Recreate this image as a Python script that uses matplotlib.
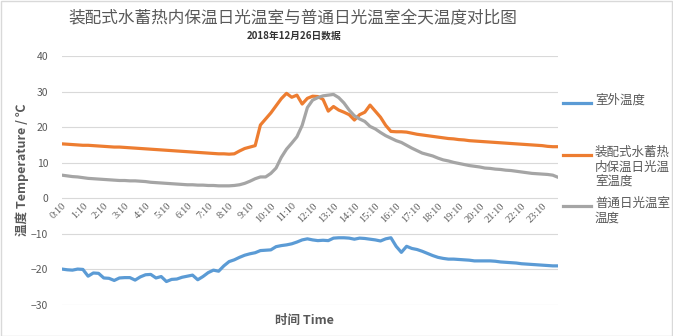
import matplotlib
matplotlib.use('Agg')
import matplotlib.pyplot as plt
from matplotlib.lines import Line2D
from matplotlib.patches import Rectangle
import numpy as np

plt.rcParams['font.family'] = ['Noto Sans CJK SC', 'DejaVu Sans']

# readings every 15 min starting 0:10
outdoor = [
    -19.9, -20.1, -20.2, -19.9, -20.0, -21.9, -21.0, -21.1, -22.4, -22.5,
    -23.1, -22.4, -22.3, -22.3, -23.0, -22.1, -21.5, -21.4, -22.4, -22.0,
    -23.4, -22.8, -22.7, -22.2, -21.9, -21.6, -22.9, -22.0, -20.9, -20.2,
    -20.5, -19.0, -17.8, -17.3, -16.6, -16.0, -15.6, -15.3, -14.7, -14.6,
    -14.5, -13.6, -13.3, -13.1, -12.8, -12.3, -11.7, -11.4, -11.7, -11.9,
    -11.8, -11.9, -11.2, -11.1, -11.1, -11.2, -11.5, -11.2, -11.3, -11.5,
    -11.7, -12.0, -11.4, -11.1, -13.5, -15.2, -13.5, -14.1, -14.4, -14.9,
    -15.5, -16.1, -16.6, -16.9, -17.1, -17.1, -17.2, -17.3, -17.4, -17.6,
    -17.6, -17.6, -17.6, -17.7, -17.9, -18.0, -18.1, -18.2, -18.4, -18.5,
    -18.6, -18.7, -18.8, -18.9, -19.0, -19.0,
]
water_house = [
    15.3, 15.2, 15.1, 15.0, 14.9, 14.9, 14.8, 14.7, 14.6, 14.5,
    14.4, 14.4, 14.3, 14.2, 14.1, 14.0, 13.9, 13.8, 13.7, 13.6,
    13.5, 13.4, 13.3, 13.2, 13.1, 13.0, 12.9, 12.8, 12.7, 12.6,
    12.5, 12.5, 12.4, 12.5, 13.3, 14.0, 14.4, 14.8, 20.6, 22.3,
    24.0, 26.0, 28.0, 29.5, 28.4, 29.0, 26.5, 28.1, 28.7, 28.6,
    27.8, 24.5, 25.8, 24.8, 24.2, 23.5, 22.0, 23.5, 24.2, 26.2,
    24.5, 22.8, 20.5, 18.8, 18.7, 18.7, 18.6, 18.3, 18.0, 17.8,
    17.6, 17.4, 17.2, 17.0, 16.8, 16.7, 16.5, 16.4, 16.2, 16.1,
    16.0, 15.9, 15.8, 15.7, 15.6, 15.5, 15.4, 15.3, 15.2, 15.1,
    15.0, 14.9, 14.8, 14.6, 14.5, 14.5,
]
normal_house = [
    6.5, 6.3, 6.1, 6.0, 5.8, 5.6, 5.5, 5.4, 5.3, 5.2,
    5.1, 5.0, 5.0, 4.9, 4.9, 4.8, 4.7, 4.5, 4.4, 4.3,
    4.2, 4.1, 4.0, 3.9, 3.8, 3.8, 3.7, 3.7, 3.6, 3.6,
    3.5, 3.5, 3.5, 3.6, 3.8, 4.2, 4.8, 5.5, 6.0, 6.0,
    7.0, 8.5, 11.5, 13.8, 15.5, 17.3, 20.5, 25.5, 27.6, 28.3,
    28.8, 29.0, 29.2, 28.3, 26.8, 24.8, 23.2, 22.3, 21.6, 20.2,
    19.5, 18.5, 17.6, 16.9, 16.2, 15.7, 14.9, 14.1, 13.4, 12.7,
    12.3, 11.9, 11.3, 10.8, 10.5, 10.1, 9.8, 9.5, 9.2, 9.0,
    8.8, 8.5, 8.4, 8.2, 8.1, 7.9, 7.8, 7.6, 7.4, 7.2,
    7.0, 6.9, 6.8, 6.7, 6.5, 5.9,
]
tick_labels = ['0:10', '1:10', '2:10', '3:10', '4:10', '5:10', '6:10', '7:10',
               '8:10', '9:10', '10:10', '11:10', '12:10', '13:10', '14:10', '15:10',
               '16:10', '17:10', '18:10', '19:10', '20:10', '21:10', '22:10', '23:10']
series_names = ['室外温度', '装配式水蓄热\n内保温日光温\n室温度', '普通日光温室\n温度']
colors = ['#5B9BD5', '#ED7D31', '#A5A5A5']

W, H = 673, 336
fig = plt.figure(figsize=(W / 100, H / 100), dpi=100)
ax = fig.add_axes([62 / W, 1 - 305 / H, (558 - 62) / W, (305 - 56) / H])

x = np.arange(len(outdoor))
for vals, c in zip([outdoor, water_house, normal_house], colors):
    ax.plot(x, vals, color=c, lw=2.3, solid_joinstyle='round', solid_capstyle='round', zorder=3)

ax.set_xlim(0, len(outdoor) - 1)
ax.set_ylim(-30, 40)
ax.set_yticks(range(-30, 41, 10))
for yv in range(-30, 41, 10):
    ax.axhline(yv, color='#D9D9D9', lw=0.8, zorder=1)

for s in ['top', 'right', 'left']:
    ax.spines[s].set_visible(False)
ax.spines['bottom'].set_position(('data', 0))
ax.spines['bottom'].set_visible(False)

ax.set_xticks(x[::4])
ax.set_xticklabels(tick_labels, rotation=45, ha='right', rotation_mode='anchor',
                   fontsize=7.5, color='#595959', family='Liberation Serif')
ax.tick_params(axis='x', length=0, pad=2)
ax.tick_params(axis='y', length=0, pad=10, labelsize=7.5, labelcolor='#595959')

fig.text(293 / W, 1 - 19 / H, '装配式水蓄热内保温日光温室与普通日光温室全天温度对比图',
         ha='center', va='center', fontsize=12, color='#595959')
fig.text(294 / W, 1 - 36 / H, '2018年12月26日数据', ha='center', va='center',
         fontsize=7, fontweight='bold', color='#333333')
fig.text(304 / W, 1 - 320 / H, '时间 Time', ha='center', va='center',
         fontsize=9, fontweight='bold', color='#595959')
fig.text(22 / W, 1 - 170 / H, '温度 Temperature / ℃', ha='center', va='center',
         rotation=90, fontsize=9, fontweight='bold', color='#595959')

# legend
leg_y = [103, 155, 206]
for name, c, ly in zip(series_names, colors, leg_y):
    fig.add_artist(Line2D([563 / W, 591 / W], [1 - ly / H, 1 - ly / H], color=c, lw=2.3))
    fig.text(595 / W, 1 - (ly - 9) / H, name, ha='left', va='top', fontsize=9,
             color='#595959', linespacing=1.15)

fig.add_artist(Rectangle((0.5 / W, 0.5 / H), 1 - 1.5 / W, 1 - 1.5 / H, transform=fig.transFigure,
                         fill=False, edgecolor='#D9D9D9', lw=1))

fig.savefig('out.png', dpi=100)
